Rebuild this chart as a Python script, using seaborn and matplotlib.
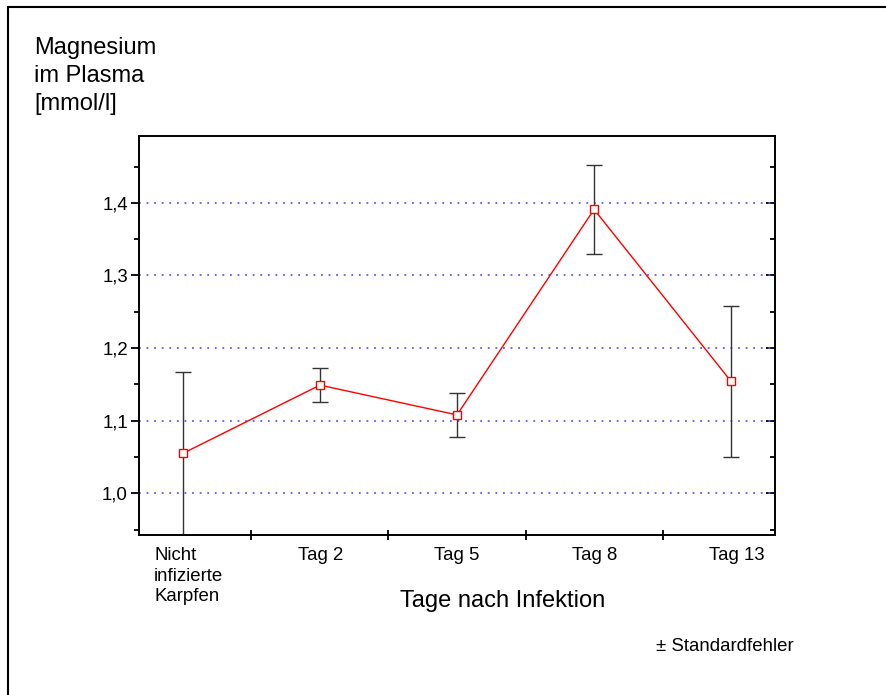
import numpy as np
import matplotlib
matplotlib.use("Agg")
import matplotlib.pyplot as plt
from matplotlib.lines import Line2D
from matplotlib.ticker import FixedLocator, FuncFormatter
from matplotlib.transforms import ScaledTranslation
import seaborn as sns

# Magnesium im Plasma, Mittelwert ± Standardfehler
categories = ["Nicht\ninfizierte\nKarpfen", "Tag 2", "Tag 5", "Tag 8", "Tag 13"]
means = [1.055, 1.149, 1.108, 1.391, 1.154]
sems = [0.112, 0.023, 0.030, 0.0615, 0.104]
y_major = [1.0, 1.1, 1.2, 1.3, 1.4]
y_minor = [0.95, 1.05, 1.15, 1.25, 1.35, 1.45]

sns.set_theme(style="ticks")
plt.rcParams["font.family"] = ["Liberation Sans", "DejaVu Sans"]

W, H = 887, 695
fig = plt.figure(figsize=(W / 100, H / 100), dpi=100)
fig.patch.set_facecolor("white")

left, right, top, bottom = 139, 775, 135.7, 535
ax = fig.add_axes([left / W, 1 - bottom / H, (right - left) / W, (bottom - top) / H])
ax.set_facecolor("white")

pos = np.arange(len(categories))

# horizontal guide lines at the major y values
for v in y_major:
    ax.axhline(v, color="#5c5cff", lw=1.3, ls=(0, (1.0, 3.2)), zorder=1)

ax.errorbar(pos, means, yerr=sems, fmt="none", ecolor="#333333",
            elinewidth=1.0, capsize=6.1, capthick=1.0, zorder=2)

sns.lineplot(x=pos, y=means, ax=ax, color="red", lw=1.0, marker="s",
             markersize=5.2, markerfacecolor="white", markeredgecolor="red",
             markeredgewidth=1.0, zorder=4)

ax.set_xlim(-0.32, 4.32)
ax.set_ylim(0.9426, 1.4925)

# y axis: labelled ticks outside on the left, inward ticks on the right
ax.yaxis.set_major_locator(FixedLocator(y_major))
ax.yaxis.set_minor_locator(FixedLocator(y_minor))
ax.yaxis.set_major_formatter(FuncFormatter(lambda v, p: f"{v:.1f}".replace(".", ",")))
ax.tick_params(axis="y", which="major", direction="out", length=6, width=1.3,
               labelsize=13.4, pad=2, colors="black", left=True, right=False)
ax.tick_params(axis="y", which="minor", direction="out", length=3.3, width=1.3,
               left=True, right=False, colors="black")

axr = ax.secondary_yaxis("right")
axr.yaxis.set_major_locator(FixedLocator(y_major))
axr.yaxis.set_minor_locator(FixedLocator(y_minor))
axr.tick_params(axis="y", which="major", direction="in", length=6.5, width=1.3,
                labelright=False, colors="black")
axr.tick_params(axis="y", which="minor", direction="in", length=3.5, width=1.3,
                colors="black")
axr.spines["right"].set_visible(False)

# x axis: category labels centred, separator ticks between categories
ax.set_xticks(pos)
ax.set_xticklabels(categories, fontsize=13.4, multialignment="left",
                   linespacing=1.24)
ax.xaxis.set_minor_locator(FixedLocator(pos[:-1] + 0.5))
ax.tick_params(axis="x", which="major", length=0, pad=9, colors="black")
ax.tick_params(axis="x", which="minor", direction="inout", length=7, width=1.3,
               colors="black")

# the outer labels sit a little to the right of their category centre
label_shift_px = [6, 1, 0, 1, 6]
for lab, dx in zip(ax.get_xticklabels(), label_shift_px):
    lab.set_transform(lab.get_transform() +
                      ScaledTranslation(dx / 100, 0, fig.dpi_scale_trans))

for s in ax.spines.values():
    s.set_visible(True)
    s.set_color("black")
    s.set_linewidth(1.4)

ax.set_xlabel("")
ax.set_ylabel("")

fig.text(34 / W, 1 - 37 / H, "Magnesium\nim Plasma\n[mmol/l]", fontsize=17,
         ha="left", va="top", linespacing=1.36, color="black")
fig.text(503 / W, 1 - 607 / H, "Tage nach Infektion", fontsize=17,
         ha="center", va="baseline", color="black")
fig.text(656 / W, 1 - 651 / H, "± Standardfehler", fontsize=13.4,
         ha="left", va="baseline", color="black")

# page frame
fig.add_artist(Line2D([8 / W, 8 / W], [0, 1 - 7 / H], transform=fig.transFigure,
                      color="black", lw=1.5))
fig.add_artist(Line2D([8 / W, 1], [1 - 7 / H, 1 - 7 / H], transform=fig.transFigure,
                      color="black", lw=1.5))

fig.savefig("out.png", dpi=100, facecolor="white")
